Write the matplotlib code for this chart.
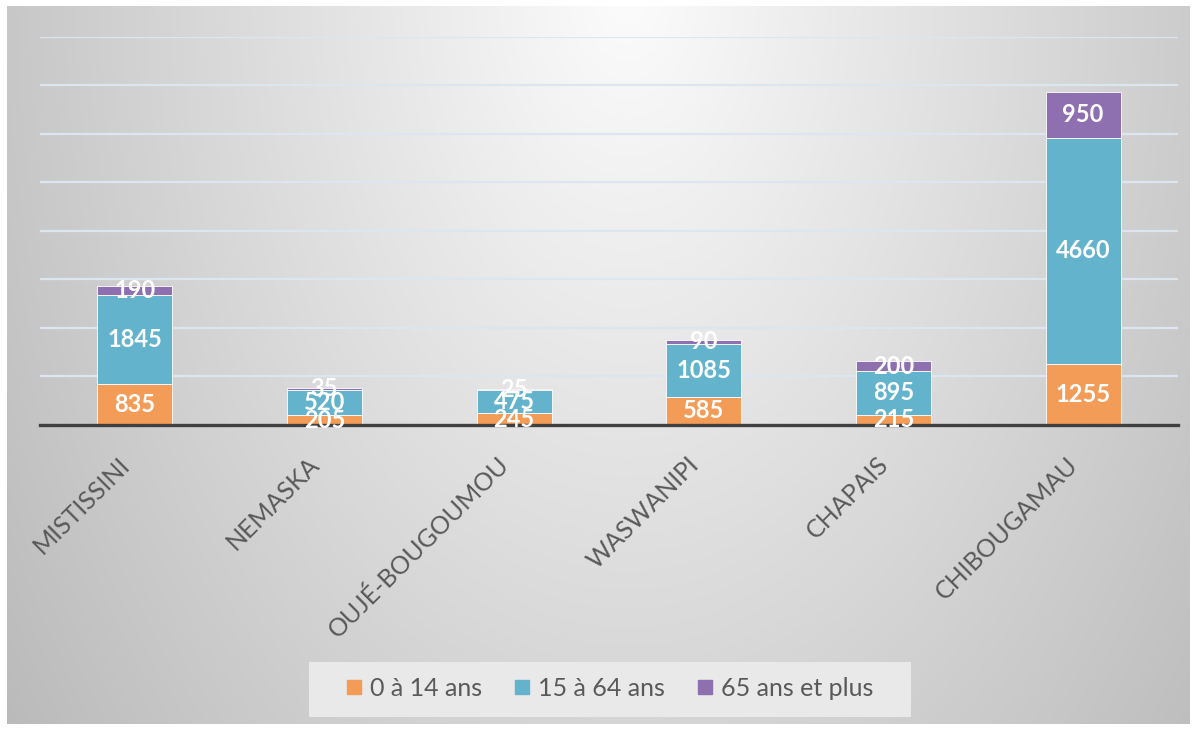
import numpy as np
import matplotlib
matplotlib.use("Agg")
import matplotlib.pyplot as plt
import matplotlib.transforms as mtransforms
from matplotlib.lines import Line2D
from matplotlib.patches import Rectangle

categories = ["MISTISSINI", "NEMASKA", "OUJÉ-BOUGOUMOU", "WASWANIPI", "CHAPAIS", "CHIBOUGAMAU"]
age_0_14 = [835, 205, 245, 585, 215, 1255]
age_15_64 = [1845, 520, 475, 1085, 895, 4660]
age_65_plus = [190, 35, 25, 90, 200, 950]
series_names = ["0 à 14 ans", "15 à 64 ans", "65 ans et plus"]
colors = ["#F39C57", "#62B3CB", "#8E6FB0"]

W, H = 1202, 733
fig = plt.figure(figsize=(W / 100, H / 100), dpi=100)
fig.patch.set_facecolor("white")

# background gradient panel
bg = fig.add_axes([0, 0, 1, 1], zorder=-10)
bg.set_xlim(0, W)
bg.set_ylim(H, 0)
bg.axis("off")
yy, xx = np.mgrid[0:H, 0:W]
d = np.sqrt(((xx - 630) / 620.0) ** 2 + ((yy + 20) / 1000.0) ** 2)
v = np.clip(252 - 52 * d, 180, 255) / 255.0
img = np.dstack([v, v, v])
bg.imshow(img, extent=[7, 1190, 724, 6], aspect="auto", interpolation="bilinear")

ax = fig.add_axes([40 / W, 1 - 425 / H, (1178 - 40) / W, (425 - 36.7) / H])
ax.set_facecolor("none")
x = np.arange(len(categories))
width = 0.395
series = [age_0_14, age_15_64, age_65_plus]
bottom = np.zeros(len(categories))
for vals, col in zip(series, colors):
    vals = np.array(vals, dtype=float)
    ax.bar(x, vals, width, bottom=bottom, color=col, edgecolor="white",
           linewidth=0.6, zorder=3)
    for xi, b, vv in zip(x, bottom, vals):
        ax.text(xi, b + vv / 2, f"{int(vv)}", ha="center", va="center",
                color="white", fontsize=17, fontweight="bold", family="Lato", zorder=5)
    bottom += vals

ax.set_xlim(-0.5, len(categories) - 0.5)
ax.set_ylim(0, 8000)
ax.set_yticks(np.arange(1000, 8001, 1000))
ax.yaxis.grid(True, color="#dde5f0", linewidth=1.6, zorder=0)
ax.set_axisbelow(True)
ax.tick_params(axis="y", left=False, labelleft=False)
ax.tick_params(axis="x", bottom=False, length=0, pad=20)
for s in ["top", "right", "left"]:
    ax.spines[s].set_visible(False)
ax.spines["bottom"].set_color("#404040")
ax.spines["bottom"].set_linewidth(2.4)
ax.spines["bottom"].set_zorder(4)
ax.set_xticks(x)
ax.set_xticklabels(categories, rotation=45, ha="right", rotation_mode="anchor",
                   fontsize=18, color="#595959", family="Lato")
offset = mtransforms.ScaledTranslation(-17 / 100, 0, fig.dpi_scale_trans)
for lab in ax.get_xticklabels():
    lab.set_transform(lab.get_transform() + offset)

# legend box drawn manually
fig.patches.append(Rectangle((309 / W, 1 - 717 / H), (911 - 309) / W, (717 - 662) / H,
                             transform=fig.transFigure, facecolor="#e9e9e9",
                             edgecolor="none", zorder=1))
handles = [Line2D([], [], marker="s", linestyle="none", markersize=10,
                  markerfacecolor=c, markeredgecolor=c) for c in colors]
leg = fig.legend(handles, series_names, loc="center", bbox_to_anchor=(610 / W, 1 - 688.5 / H),
                 ncol=3, frameon=False,
                 handlelength=0.6, handletextpad=0.35, columnspacing=1.3,
                 borderpad=0.3, prop={"family": "Lato", "size": 18})
leg.set_zorder(2)
for t in leg.get_texts():
    t.set_color("#595959")

fig.savefig("out.png", dpi=100)
